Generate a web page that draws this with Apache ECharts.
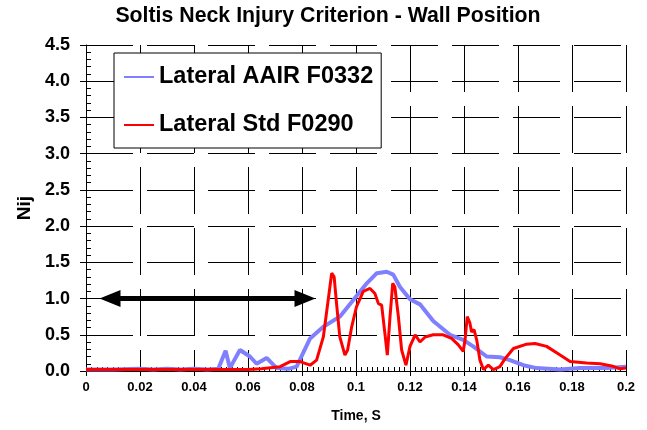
<!DOCTYPE html>
<html>
<head>
<meta charset="utf-8">
<script src="https://cdn.jsdelivr.net/npm/echarts@6/dist/echarts.min.js"></script>
<style>
html,body{margin:0;padding:0;background:#fff;}
#chart{width:647px;height:430px;}
</style>
</head>
<body>
<div id="chart"></div>
<script>
// ---- data ----
const titleText = 'Soltis Neck Injury Criterion - Wall Position';
const seriesNames = ['Lateral AAIR F0332', 'Lateral Std F0290'];

const aairT = [0, 0.01, 0.02, 0.025, 0.03, 0.035, 0.04, 0.045, 0.049, 0.0517, 0.0533, 0.057, 0.0607, 0.0632, 0.0669, 0.0706, 0.075, 0.078, 0.083, 0.0879, 0.094, 0.099, 0.104, 0.1077, 0.1114, 0.1138, 0.1163, 0.12, 0.1237, 0.1286, 0.1348, 0.1397, 0.1434, 0.1484, 0.1533, 0.157, 0.162, 0.1669, 0.1756, 0.183, 0.1928, 0.2];
const aairV = [0.02, 0.02, 0.03, 0.02, 0.03, 0.02, 0.03, 0.02, 0.03, 0.28, 0.04, 0.29, 0.2, 0.1, 0.18, 0.04, 0.03, 0.06, 0.45, 0.61, 0.75, 0.98, 1.21, 1.35, 1.37, 1.33, 1.16, 0.99, 0.92, 0.69, 0.5, 0.43, 0.34, 0.2, 0.19, 0.15, 0.08, 0.04, 0.02, 0.04, 0.04, 0.06];

const stdT = [0, 0.02, 0.04, 0.06, 0.065, 0.0719, 0.0756, 0.0793, 0.083, 0.0854, 0.0879, 0.0897, 0.091, 0.0919, 0.0928, 0.094, 0.0959, 0.0969, 0.0984, 0.1002, 0.1027, 0.1052, 0.107, 0.1083, 0.1095, 0.1107, 0.1116, 0.1126, 0.1136, 0.1144, 0.1157, 0.1169, 0.1185, 0.12, 0.1219, 0.1237, 0.1256, 0.1286, 0.1323, 0.1354, 0.1379, 0.1397, 0.1404, 0.1412, 0.1422, 0.1428, 0.1437, 0.1447, 0.1459, 0.1472, 0.149, 0.1509, 0.1533, 0.1552, 0.1583, 0.1632, 0.1663, 0.1706, 0.1756, 0.1793, 0.1854, 0.1904, 0.1947, 0.1978, 0.2];
const stdV = [0.02, 0.02, 0.02, 0.02, 0.03, 0.06, 0.13, 0.13, 0.08, 0.15, 0.47, 0.98, 1.35, 1.30, 0.93, 0.47, 0.22, 0.29, 0.61, 0.89, 1.10, 1.14, 1.07, 0.93, 0.91, 0.52, 0.22, 0.75, 1.21, 1.16, 0.75, 0.29, 0.08, 0.34, 0.50, 0.40, 0.47, 0.50, 0.50, 0.45, 0.36, 0.27, 0.43, 0.75, 0.66, 0.54, 0.57, 0.43, 0.15, 0.02, 0.08, 0.02, 0.06, 0.17, 0.31, 0.37, 0.38, 0.34, 0.22, 0.13, 0.11, 0.10, 0.07, 0.03, 0.04];

// double arrow (line end points, heads drawn beyond them)
const arrowStart = [0.0089, 1.0];
const arrowEnd = [0.0811, 1.0];

const xMin = 0, xMax = 0.2, xStep = 0.02;
const yMin = 0, yMax = 4.5, yStep = 0.5;
const xName = 'Time, S';
const yName = 'Nij';

// ---- build ----
const FONT = '"Liberation Sans", Arial, sans-serif';
const zip = (t, v) => t.map((x, i) => [x, v[i]]);
const dash = [47, 14];

const chart = echarts.init(document.getElementById('chart'), null, {renderer: 'canvas'});
chart.setOption({
  animation: false,
  backgroundColor: '#fff',
  textStyle: {fontFamily: FONT},
  graphic: [{
    type: 'text', x: 328, y: 6, silent: true,
    style: {text: titleText, fontFamily: FONT, fontSize: 21.3, fontWeight: 'bold', fill: '#000', textAlign: 'center', textVerticalAlign: 'top'}
  }],
  grid: {left: 86, right: 21, top: 45, bottom: 59, containLabel: false},
  legend: {
    data: seriesNames,
    orient: 'vertical',
    left: 114, top: 53,
    padding: [12, 8, 11, 9],
    itemWidth: 30, itemHeight: 24, itemGap: 24,
    backgroundColor: '#fff', borderColor: '#000', borderWidth: 1, borderRadius: 0,
    selectedMode: false,
    itemStyle: {opacity: 0, borderWidth: 0},
    textStyle: {fontFamily: FONT, fontSize: 23.5, fontWeight: 'bold', color: '#000', lineHeight: 24}
  },
  xAxis: [{
    type: 'value', min: xMin, max: xMax, interval: xStep, position: 'bottom',
    axisLine: {show: true, onZero: false, lineStyle: {color: '#000', width: 1}},
    axisTick: {show: true, length: 5, inside: false, lineStyle: {color: '#000', width: 1}},
    axisLabel: {fontFamily: FONT, fontSize: 13, fontWeight: 'bold', color: '#000', margin: 10},
    splitLine: {show: true, lineStyle: {color: '#000', width: 1, type: dash}},
    name: xName, nameLocation: 'middle', nameGap: 38,
    nameTextStyle: {fontFamily: FONT, fontSize: 14, fontWeight: 'bold', color: '#000'}
  }, {
    type: 'value', min: xMin, max: xMax, interval: xStep, position: 'bottom',
    axisLine: {show: false, onZero: false},
    axisTick: {show: false, inside: true},
    minorTick: {show: true, splitNumber: 10, length: 4, lineStyle: {color: '#000', width: 1}},
    axisLabel: {show: false},
    splitLine: {show: false}
  }],
  yAxis: [{
    type: 'value', min: yMin, max: yMax, interval: yStep, position: 'left',
    axisLine: {show: true, onZero: false, lineStyle: {color: '#000', width: 1}},
    axisTick: {show: true, length: 6, inside: false, lineStyle: {color: '#000', width: 1}},
    axisLabel: {fontFamily: FONT, fontSize: 18, fontWeight: 'bold', color: '#000', margin: 16,
      formatter: v => v.toFixed(1)},
    splitLine: {show: true, lineStyle: {color: '#000', width: 1, type: dash}},
    name: yName, nameLocation: 'middle', nameGap: 43, nameRotate: 90,
    nameTextStyle: {fontFamily: FONT, fontSize: 19, fontWeight: 'bold', color: '#000'}
  }, {
    type: 'value', min: yMin, max: yMax, interval: yStep, position: 'left',
    axisLine: {show: false, onZero: false},
    axisTick: {show: false, inside: true},
    minorTick: {show: true, splitNumber: 5, length: 5, lineStyle: {color: '#000', width: 1}},
    axisLabel: {show: false},
    splitLine: {show: false}
  }],
  series: [{
    name: seriesNames[0], type: 'line', xAxisIndex: 0, yAxisIndex: 0,
    data: zip(aairT, aairV), symbol: 'none', smooth: false,
    lineStyle: {color: '#8080FF', width: 4}, itemStyle: {color: '#8080FF'},
    z: 2, silent: true
  }, {
    name: seriesNames[1], type: 'line', xAxisIndex: 0, yAxisIndex: 0,
    data: zip(stdT, stdV), symbol: 'none', smooth: false,
    lineStyle: {color: '#FF0000', width: 3}, itemStyle: {color: '#FF0000'},
    z: 3, silent: true,
    markLine: {
      silent: true, animation: false,
      symbol: ['triangle', 'triangle'], symbolSize: [17, 21],
      label: {show: false},
      lineStyle: {color: '#000', width: 5, type: 'solid'},
      itemStyle: {color: '#000'},
      data: [[{coord: arrowStart}, {coord: arrowEnd}]]
    }
  }]
});
</script>
</body>
</html>
